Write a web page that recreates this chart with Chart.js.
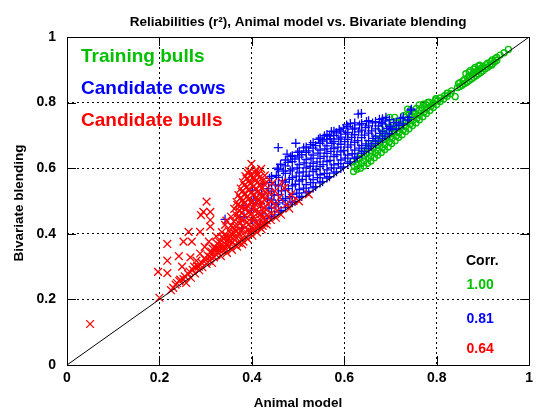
<!DOCTYPE html>
<html>
<head>
<meta charset="utf-8">
<title>Reliabilities</title>
<script src="https://cdn.jsdelivr.net/npm/chart.js@4.4.0/dist/chart.umd.min.js"></script>
<style>
  html, body { margin: 0; padding: 0; background: #fff; }
  canvas { display: block; }
</style>
</head>
<body>
<canvas id="relChart" width="536" height="410"></canvas>
<script>
// [animal model, bivariate blending] pairs
const trainingBulls = [
  [0.62,0.59],[0.622,0.605],[0.618,0.62],
  [0.635,0.6],[0.637,0.615],[0.633,0.63],[0.636,0.645],
  [0.65,0.615],[0.652,0.63],[0.648,0.645],[0.651,0.66],[0.653,0.675],
  [0.665,0.632],[0.667,0.646],[0.663,0.661],[0.666,0.676],[0.668,0.69],
  [0.68,0.648],[0.682,0.663],[0.678,0.678],[0.681,0.693],[0.683,0.708],[0.679,0.72],
  [0.695,0.665],[0.697,0.68],[0.693,0.695],[0.696,0.71],[0.698,0.725],[0.694,0.738],
  [0.71,0.684],[0.712,0.698],[0.708,0.713],[0.711,0.728],[0.713,0.743],[0.709,0.755],
  [0.725,0.702],[0.727,0.716],[0.723,0.73],[0.726,0.745],[0.728,0.76],
  [0.74,0.72],[0.742,0.735],[0.738,0.75],[0.741,0.765],[0.743,0.776],
  [0.755,0.738],[0.757,0.752],[0.753,0.767],[0.756,0.782],
  [0.77,0.757],[0.772,0.77],[0.768,0.784],[0.771,0.795],
  [0.785,0.776],[0.787,0.789],[0.783,0.801],
  [0.8,0.794],[0.802,0.806],[0.798,0.812],
  [0.815,0.811],[0.817,0.821],
  [0.83,0.827],[0.832,0.836],
  [0.6275,0.597],[0.6275,0.612],[0.6275,0.627],
  [0.6425,0.607],[0.6425,0.622],[0.6425,0.637],[0.6425,0.652],
  [0.6575,0.622],[0.6575,0.637],[0.6575,0.652],[0.6575,0.667],
  [0.6725,0.64],[0.6725,0.655],[0.6725,0.67],[0.6725,0.685],
  [0.6875,0.657],[0.6875,0.672],[0.6875,0.687],[0.6875,0.702],
  [0.7025,0.675],[0.7025,0.69],[0.7025,0.705],[0.7025,0.72],
  [0.7175,0.694],[0.7175,0.708],[0.7175,0.722],[0.7175,0.737],
  [0.7325,0.712],[0.7325,0.726],[0.7325,0.74],[0.7325,0.755],
  [0.7475,0.73],[0.7475,0.744],[0.7475,0.758],[0.7475,0.772],
  [0.7625,0.748],[0.7625,0.762],[0.7625,0.776],
  [0.7775,0.767],[0.7775,0.78],[0.7775,0.793],
  [0.7925,0.785],[0.7925,0.798],
  [0.8075,0.803],[0.8075,0.814],
  [0.8225,0.819],[0.8225,0.829],
  [0.698,0.755],[0.737,0.78],[0.762,0.793],[0.78,0.8],[0.798,0.808],[0.823,0.828],[0.84,0.818],
  [0.845,0.846],[0.847,0.858],
  [0.855,0.853],[0.857,0.866],
  [0.865,0.862],[0.867,0.876],[0.863,0.888],
  [0.875,0.872],[0.877,0.886],[0.873,0.898],
  [0.885,0.882],[0.887,0.896],[0.883,0.907],
  [0.895,0.892],[0.897,0.905],[0.893,0.914],
  [0.905,0.903],[0.907,0.915],
  [0.915,0.913],[0.917,0.925],
  [0.925,0.924],[0.927,0.934],
  [0.85,0.849],[0.85,0.861],[0.86,0.858],[0.86,0.871],
  [0.87,0.867],[0.87,0.881],[0.87,0.893],
  [0.88,0.877],[0.88,0.891],[0.88,0.902],
  [0.89,0.887],[0.89,0.9],[0.89,0.911],
  [0.9,0.897],[0.9,0.91],[0.91,0.908],[0.91,0.92],
  [0.92,0.918],[0.92,0.93],[0.93,0.929],[0.93,0.938],
  [0.919,0.915],[0.937,0.945],[0.946,0.952],[0.955,0.962]
];

const candidateCows = [
  [0.378,0.418],[0.383,0.452],[0.381,0.485],
  [0.398,0.41],[0.402,0.442],[0.399,0.472],[0.403,0.503],[0.401,0.532],
  [0.418,0.428],[0.422,0.461],[0.419,0.492],[0.421,0.521],[0.423,0.552],
  [0.433,0.446],[0.437,0.478],[0.434,0.509],[0.436,0.538],[0.438,0.569],
  [0.449,0.458],[0.452,0.489],[0.448,0.518],[0.451,0.549],[0.453,0.578],[0.455,0.6],
  [0.463,0.471],[0.467,0.502],[0.464,0.531],[0.466,0.562],[0.468,0.591],[0.462,0.612],
  [0.478,0.488],[0.482,0.513],[0.479,0.538],[0.481,0.566],[0.483,0.592],[0.478,0.618],[0.484,0.635],
  [0.493,0.499],[0.497,0.524],[0.494,0.551],[0.496,0.576],[0.498,0.601],[0.493,0.628],[0.499,0.648],
  [0.508,0.514],[0.512,0.539],[0.509,0.566],[0.511,0.589],[0.513,0.616],[0.508,0.641],[0.512,0.662],
  [0.523,0.529],[0.527,0.556],[0.524,0.579],[0.526,0.606],[0.528,0.631],[0.523,0.653],[0.527,0.672],
  [0.538,0.544],[0.542,0.571],[0.539,0.596],[0.541,0.619],[0.543,0.646],[0.538,0.669],[0.544,0.688],
  [0.553,0.559],[0.557,0.584],[0.554,0.611],[0.556,0.636],[0.558,0.659],[0.553,0.683],[0.557,0.699],
  [0.568,0.574],[0.572,0.601],[0.569,0.624],[0.571,0.651],[0.573,0.676],[0.568,0.698],[0.572,0.712],
  [0.583,0.589],[0.587,0.614],[0.584,0.641],[0.586,0.664],[0.588,0.689],[0.583,0.708],[0.589,0.718],
  [0.598,0.604],[0.602,0.631],[0.599,0.654],[0.601,0.681],[0.603,0.704],[0.598,0.722],
  [0.613,0.619],[0.617,0.644],[0.614,0.671],[0.616,0.694],[0.618,0.719],[0.613,0.736],
  [0.628,0.634],[0.632,0.661],[0.629,0.684],[0.631,0.711],[0.633,0.732],
  [0.643,0.651],[0.647,0.674],[0.644,0.701],[0.646,0.724],[0.648,0.742],
  [0.658,0.667],[0.662,0.691],[0.659,0.714],[0.661,0.738],
  [0.673,0.683],[0.677,0.706],[0.674,0.729],[0.676,0.749],
  [0.688,0.698],[0.692,0.721],[0.689,0.744],
  [0.703,0.718],[0.707,0.739],
  [0.718,0.731],[0.722,0.752],
  [0.4425,0.452],[0.4425,0.478],[0.4425,0.503],[0.4425,0.53],[0.4425,0.556],[0.4425,0.575],
  [0.4575,0.467],[0.4575,0.494],[0.4575,0.519],[0.4575,0.546],[0.4575,0.572],[0.4575,0.596],
  [0.4725,0.48],[0.4725,0.507],[0.4725,0.533],[0.4725,0.558],[0.4725,0.584],[0.4725,0.607],[0.4725,0.625],
  [0.4875,0.495],[0.4875,0.52],[0.4875,0.546],[0.4875,0.571],[0.4875,0.597],[0.4875,0.62],[0.4875,0.638],
  [0.5025,0.51],[0.5025,0.535],[0.5025,0.561],[0.5025,0.586],[0.5025,0.611],[0.5025,0.634],[0.5025,0.652],
  [0.5175,0.525],[0.5175,0.55],[0.5175,0.575],[0.5175,0.601],[0.5175,0.626],[0.5175,0.648],[0.5175,0.665],
  [0.5325,0.54],[0.5325,0.565],[0.5325,0.59],[0.5325,0.615],[0.5325,0.64],[0.5325,0.661],[0.5325,0.678],
  [0.5475,0.555],[0.5475,0.58],[0.5475,0.605],[0.5475,0.63],[0.5475,0.655],[0.5475,0.676],[0.5475,0.692],
  [0.5625,0.57],[0.5625,0.595],[0.5625,0.62],[0.5625,0.645],[0.5625,0.668],[0.5625,0.688],[0.5625,0.703],
  [0.5775,0.585],[0.5775,0.61],[0.5775,0.635],[0.5775,0.66],[0.5775,0.682],[0.5775,0.7],[0.5775,0.713],
  [0.5925,0.6],[0.5925,0.625],[0.5925,0.65],[0.5925,0.673],[0.5925,0.695],[0.5925,0.713],
  [0.6075,0.615],[0.6075,0.64],[0.6075,0.664],[0.6075,0.688],[0.6075,0.709],[0.6075,0.727],
  [0.6225,0.63],[0.6225,0.655],[0.6225,0.679],[0.6225,0.702],[0.6225,0.722],[0.6225,0.738],
  [0.6375,0.645],[0.6375,0.669],[0.6375,0.693],[0.6375,0.716],[0.6375,0.736],
  [0.6525,0.66],[0.6525,0.684],[0.6525,0.707],[0.6525,0.729],[0.6525,0.745],
  [0.6675,0.675],[0.6675,0.698],[0.6675,0.72],[0.6675,0.742],
  [0.6825,0.69],[0.6825,0.713],[0.6825,0.735],[0.6825,0.751],
  [0.6975,0.705],[0.6975,0.727],[0.6975,0.748],
  [0.7125,0.72],[0.7125,0.74],
  [0.7275,0.735],[0.7275,0.755],
  [0.342,0.444],[0.427,0.437],[0.457,0.663],[0.476,0.643],[0.495,0.676],[0.57,0.69],
  [0.605,0.732],[0.63,0.765],[0.637,0.767],[0.744,0.777],[0.737,0.747],[0.68,0.74],
  [0.7,0.727],[0.745,0.78],[0.74,0.755],[0.69,0.755]
];

const candidateBulls = [
  [0.05,0.125],[0.2,0.205],[0.197,0.284],[0.217,0.28],[0.217,0.318],[0.217,0.369],
  [0.242,0.332],[0.249,0.3],[0.252,0.376],[0.263,0.406],[0.27,0.376],[0.267,0.328],
  [0.288,0.406],[0.29,0.457],[0.295,0.467],[0.302,0.498],[0.31,0.467],[0.31,0.442],
  [0.31,0.422],[0.307,0.376],[0.313,0.34],[0.288,0.34],[0.342,0.427],[0.355,0.452],
  [0.399,0.613],[0.28,0.318],[0.298,0.36],[0.323,0.392],[0.335,0.405],[0.345,0.44],[0.33,0.375],
  [0.225,0.228],[0.235,0.245],[0.243,0.256],[0.252,0.262],[0.258,0.25],[0.262,0.278],
  [0.268,0.266],[0.272,0.29],[0.277,0.279],[0.282,0.302],[0.286,0.289],[0.291,0.312],
  [0.293,0.298],[0.297,0.325],[0.302,0.308],[0.304,0.334],[0.308,0.318],[0.312,0.346],
  [0.314,0.311],[0.318,0.328],[0.321,0.355],[0.323,0.336],[0.327,0.343],[0.331,0.364],
  [0.333,0.332],[0.337,0.349],[0.341,0.372],[0.343,0.356],[0.346,0.342],[0.348,0.383],
  [0.352,0.362],[0.353,0.392],[0.357,0.351],[0.358,0.374],[0.362,0.401],[0.363,0.366],
  [0.367,0.387],[0.368,0.361],[0.372,0.372],[0.373,0.397],[0.377,0.383],[0.379,0.368],
  [0.382,0.376],[0.387,0.391],[0.391,0.384],[0.396,0.402],[0.401,0.394],[0.406,0.412],
  [0.411,0.404],[0.416,0.421],[0.421,0.414],[0.426,0.432],[0.432,0.428],[0.441,0.442],
  [0.452,0.449],[0.463,0.458],[0.481,0.477],[0.502,0.499],[0.523,0.52],
  [0.325,0.37],[0.335,0.39],[0.345,0.395],[0.35,0.41],[0.355,0.425],[0.36,0.385],
  [0.34,0.385],[0.33,0.35],[0.345,0.365],[0.355,0.4],[0.365,0.41],[0.36,0.42],
  [0.35,0.375],[0.3,0.32],[0.31,0.33],[0.32,0.36],[0.285,0.3],[0.275,0.3],
  [0.265,0.285],[0.255,0.27],[0.245,0.26],[0.238,0.25],[0.23,0.235],[0.315,0.355],
  [0.338,0.36],[0.328,0.355],
  [0.371,0.403],[0.386,0.407],[0.401,0.415],[0.416,0.428],[0.432,0.441],
  [0.366,0.421],[0.381,0.425],[0.394,0.43],[0.41,0.436],[0.424,0.447],
  [0.361,0.438],[0.376,0.444],[0.389,0.449],[0.404,0.452],[0.419,0.46],[0.434,0.458],
  [0.366,0.458],[0.379,0.465],[0.396,0.468],[0.411,0.474],[0.426,0.48],
  [0.362,0.476],[0.374,0.484],[0.39,0.486],[0.406,0.492],[0.421,0.497],[0.436,0.49],
  [0.367,0.497],[0.381,0.503],[0.395,0.508],[0.41,0.512],[0.425,0.515],
  [0.371,0.518],[0.386,0.522],[0.4,0.527],[0.414,0.53],[0.429,0.528],
  [0.376,0.538],[0.389,0.543],[0.404,0.546],[0.419,0.548],
  [0.381,0.557],[0.394,0.561],[0.409,0.564],[0.424,0.562],
  [0.386,0.576],[0.399,0.579],[0.414,0.582],
  [0.394,0.592],[0.409,0.595],
  [0.3785,0.41],[0.3935,0.412],[0.4085,0.419],[0.4235,0.424],
  [0.3735,0.431],[0.3885,0.434],[0.4025,0.44],[0.4175,0.445],
  [0.3685,0.448],[0.3835,0.455],[0.3965,0.458],[0.4115,0.462],[0.4265,0.466],
  [0.3725,0.47],[0.3875,0.476],[0.4035,0.479],[0.4185,0.485],
  [0.3685,0.488],[0.3825,0.493],[0.3975,0.497],[0.4135,0.5],[0.4285,0.503],
  [0.3745,0.508],[0.3885,0.512],[0.4025,0.518],[0.4175,0.52],
  [0.3785,0.528],[0.3935,0.532],[0.4075,0.536],[0.4215,0.538],
  [0.3835,0.548],[0.3965,0.552],[0.4115,0.555],[0.4265,0.551],
  [0.3885,0.568],[0.4015,0.571],[0.4165,0.572],
  [0.3915,0.585],[0.4065,0.587],
  [0.372,0.455],[0.385,0.475],[0.398,0.495],[0.413,0.505],[0.392,0.535],[0.405,0.57],
  [0.44,0.5],[0.45,0.53],[0.445,0.555],[0.46,0.51],[0.47,0.54],[0.475,0.49],
  [0.485,0.52],[0.49,0.5],[0.455,0.47],[0.442,0.462],[0.465,0.558],[0.432,0.558],
  [0.428,0.578],[0.42,0.598],[0.452,0.488],[0.438,0.525]
];

const diagonal = [[0, 0], [1, 1]];
const axisTicks = [0, 0.2, 0.4, 0.6, 0.8, 1];

const seriesNames = ['Training bulls', 'Candidate cows', 'Candidate bulls'];
const seriesColors = ['#00c000', '#0000ff', '#ff0000'];
const corrValues = ['1.00', '0.81', '0.64'];

const FONT = '"Liberation Sans", Arial, Helvetica, sans-serif';

function toPoints(list) {
  return list.map(p => ({ x: p[0], y: p[1] }));
}

// frame, inner tic marks and all free text, gnuplot style
const gnuplotDecor = {
  id: 'gnuplotDecor',
  afterDatasetsDraw(chart) {
    const { ctx, chartArea: a, scales } = chart;
    const px = v => Math.round(v) + 0.5;
    ctx.save();
    ctx.strokeStyle = '#000';
    ctx.lineWidth = 1;
    ctx.setLineDash([]);
    ctx.strokeRect(px(a.left), px(a.top), Math.round(a.right) - Math.round(a.left), Math.round(a.bottom) - Math.round(a.top));
    const tic = 9;
    ctx.beginPath();
    axisTicks.forEach(v => {
      const xp = px(scales.x.getPixelForValue(v));
      ctx.moveTo(xp, a.bottom); ctx.lineTo(xp, a.bottom - tic);
      ctx.moveTo(xp, a.top); ctx.lineTo(xp, a.top + tic);
      const yp = px(scales.y.getPixelForValue(v));
      ctx.moveTo(a.left, yp); ctx.lineTo(a.left + tic, yp);
      ctx.moveTo(a.right, yp); ctx.lineTo(a.right - tic, yp);
    });
    ctx.stroke();
    ctx.restore();
  },
  afterDraw(chart) {
    const { ctx, chartArea: a } = chart;
    const cx = (a.left + a.right) / 2;
    ctx.save();
    ctx.fillStyle = '#000';
    ctx.textBaseline = 'alphabetic';

    ctx.textAlign = 'center';
    ctx.font = 'bold 13.5px ' + FONT;
    ctx.fillText('Reliabilities (r\u00b2), Animal model vs. Bivariate blending', cx, 26);

    ctx.font = 'bold 13.5px ' + FONT;
    ctx.fillText('Animal model', cx, 407);

    ctx.save();
    ctx.translate(23, (a.top + a.bottom) / 2 + 2);
    ctx.rotate(-Math.PI / 2);
    ctx.fillText('Bivariate blending', 0, 0);
    ctx.restore();

    ctx.textAlign = 'left';
    ctx.font = 'bold 19px ' + FONT;
    const legendBase = [62, 94, 126];
    seriesNames.forEach((name, i) => {
      ctx.fillStyle = seriesColors[i];
      ctx.fillText(name, 81, legendBase[i]);
    });

    ctx.font = 'bold 14px ' + FONT;
    ctx.fillStyle = '#000';
    ctx.fillText('Corr.', 466, 265);
    const corrBase = [289, 323, 353];
    corrValues.forEach((c, i) => {
      ctx.fillStyle = seriesColors[i];
      ctx.fillText(c, 466.5, corrBase[i]);
    });
    ctx.restore();
  }
};

const tickFont = { family: FONT, size: 14, weight: 'bold' };

const ctx = document.getElementById('relChart').getContext('2d');
const chart = new Chart(ctx, {
  type: 'scatter',
  data: {
    datasets: [
      {
        label: 'diagonal',
        type: 'line',
        data: toPoints(diagonal),
        showLine: true,
        borderColor: '#000',
        borderWidth: 1,
        pointRadius: 0,
        fill: false,
        order: 1
      },
      {
        label: seriesNames[2],
        data: toPoints(candidateBulls),
        pointStyle: 'crossRot',
        pointRadius: 5.5,
        borderColor: seriesColors[2],
        borderWidth: 1.3,
        order: 2
      },
      {
        label: seriesNames[1],
        data: toPoints(candidateCows),
        pointStyle: 'cross',
        pointRadius: 4.5,
        borderColor: seriesColors[1],
        borderWidth: 1.3,
        order: 3
      },
      {
        label: seriesNames[0],
        data: toPoints(trainingBulls),
        pointStyle: 'circle',
        pointRadius: 3,
        backgroundColor: 'rgba(0,0,0,0)',
        borderColor: seriesColors[0],
        borderWidth: 1.3,
        order: 4
      }
    ]
  },
  options: {
    responsive: false,
    animation: false,
    devicePixelRatio: 1,
    layout: { padding: { left: 0, right: 1.5, top: 37, bottom: 0 } },
    plugins: {
      legend: { display: false },
      tooltip: { enabled: false }
    },
    scales: {
      x: {
        type: 'linear',
        min: 0,
        max: 1,
        ticks: {
          stepSize: 0.2,
          padding: 5,
          color: '#000',
          font: tickFont,
          callback: v => String(Math.round(v * 10) / 10)
        },
        grid: { color: '#000', lineWidth: 1, drawTicks: false },
        border: { display: false, dash: [2, 3] },
        afterFit(scale) {
          scale.height = 45;
          scale.paddingLeft = 0;
          scale.paddingRight = 0;
        }
      },
      y: {
        type: 'linear',
        min: 0,
        max: 1,
        ticks: {
          stepSize: 0.2,
          padding: 11,
          color: '#000',
          font: tickFont,
          callback: v => String(Math.round(v * 10) / 10)
        },
        grid: { color: '#000', lineWidth: 1, drawTicks: false },
        border: { display: false, dash: [2, 3] },
        afterFit(scale) {
          scale.width = 67;
          scale.paddingTop = 0;
          scale.paddingBottom = 0;
        }
      }
    }
  },
  plugins: [gnuplotDecor]
});
</script>
</body>
</html>
